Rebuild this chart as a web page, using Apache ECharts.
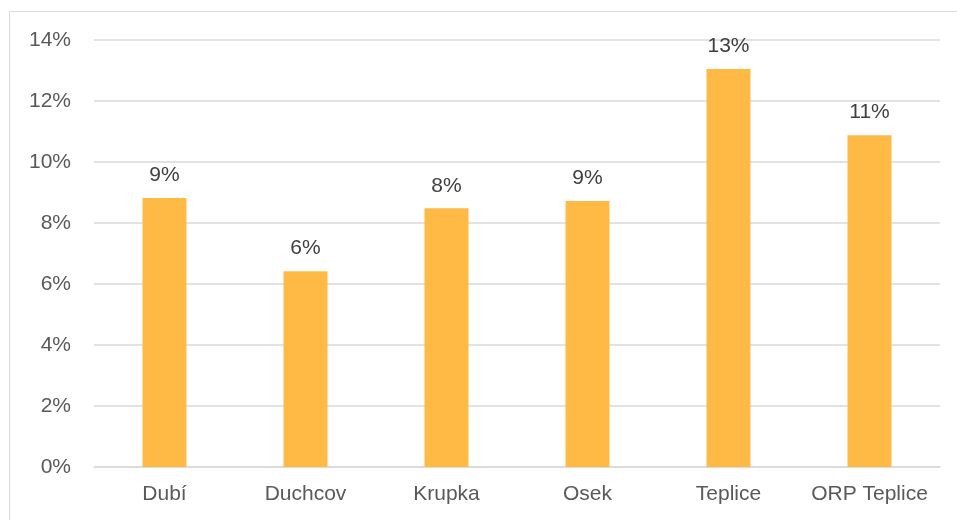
<!DOCTYPE html>
<html>
<head>
<meta charset="utf-8">
<script src="https://cdn.jsdelivr.net/npm/echarts@6/dist/echarts.min.js"></script>
<style>
  html, body { margin: 0; padding: 0; background: #fff; }
  #chart { width: 957px; height: 520px; }
</style>
</head>
<body>
<div id="chart"></div>
<script>
var categories = ["Dubí", "Duchcov", "Krupka", "Osek", "Teplice", "ORP Teplice"];
var shares = [8.82, 6.42, 8.48, 8.72, 13.05, 10.88];
var yTicks = [0, 2, 4, 6, 8, 10, 12, 14];

var chart = echarts.init(document.getElementById("chart"));

chart.setOption({
	animation: false,
	textStyle: { fontFamily: "Liberation Sans, Arial, sans-serif" },
	graphic: [{
		type: "rect",
		shape: { x: 9.5, y: 11.5, width: 980, height: 540 },
		style: { fill: "none", stroke: "#d9d9d9", lineWidth: 1 },
		silent: true
	}],
	grid: { left: 94, right: 17, top: 40, bottom: 53 },
	xAxis: {
		type: "category",
		data: categories,
		axisLine: { lineStyle: { color: "#d9d9d9", width: 1.5 } },
		axisTick: { show: false },
		axisLabel: { color: "#595959", fontSize: 21, margin: 17, interval: 0 }
	},
	yAxis: {
		type: "value",
		min: yTicks[0],
		max: yTicks[yTicks.length - 1],
		interval: 2,
		axisLine: { show: false },
		axisTick: { show: false },
		splitLine: { lineStyle: { color: "#d9d9d9", width: 1.5 } },
		axisLabel: {
			color: "#595959",
			fontSize: 21,
			margin: 23,
			formatter: function (v) { return v + "%"; }
		}
	},
	series: [{
		type: "bar",
		data: shares,
		barWidth: 44,
		itemStyle: { color: "#FFBA45" },
		label: {
			show: true,
			position: "top",
			distance: 12,
			color: "#404040",
			fontSize: 21,
			formatter: function (p) { return Math.round(p.value) + "%"; }
		}
	}]
});
</script>
</body>
</html>
